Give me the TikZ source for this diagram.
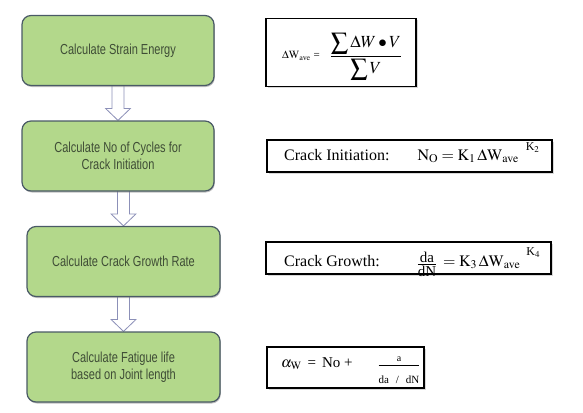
\documentclass[tikz,border=0pt]{standalone}
\usepackage{mathptmx}
\usepackage{fontspec}
\setmainfont{Liberation Serif}
\newfontfamily\stepfont[FakeStretch=0.76]{Liberation Sans}
\usetikzlibrary{positioning, calc, shadows, backgrounds}
\definecolor{stepfill}{HTML}{B3D88B}
\definecolor{stepline}{HTML}{4A5A66}
\definecolor{steptext}{HTML}{3F4D36}
\definecolor{arrowline}{HTML}{8C90B8}

\begin{document}
\begin{tikzpicture}[x=1pt, y=-1pt,
    stepbox/.style={rectangle, rounded corners=9pt, draw=stepline, line width=1.2pt, fill=stepfill, minimum width=192pt, minimum height=70pt, font=\stepfont\fontsize{14.5}{16.5}\selectfont, text=steptext, align=center, drop shadow={shadow xshift=0.8pt, shadow yshift=-1.5pt, fill=black!50}},
    formula/.style={rectangle, draw=black, line width=1.4pt, fill=white, inner sep=0pt, drop shadow={shadow xshift=1.6pt, shadow yshift=-1.6pt, fill=black!30}},
    ftext/.style={inner sep=0pt, anchor=base west, font=\fontsize{16}{19}\selectfont},
    fracnode/.style={inner sep=0pt, anchor=north},
    blockarrow/.style={draw=arrowline, line width=0.8pt, fill=white}
]
\useasboundingbox (0,0) rectangle (583,412);

% process steps
\node[stepbox] (s1) at (118,50.5) {Calculate Strain Energy};
\node[stepbox] (s2) at (118,156) {Calculate No of Cycles for\\Crack Initiation};
\node[stepbox, minimum width=193pt] (s3) at (123.5,261.5) {Calculate Crack Growth Rate};
\node[stepbox, minimum width=193pt] (s4) at (123.5,367) {Calculate Fatigue life\\based on Joint length};

% hollow block arrows
\begin{scope}[on background layer]
\foreach \a/\b in {s1/s2, s2/s3, s3/s4} {
  \coordinate (top) at (\a.south -| \b.north);
  \coordinate (tip) at (\b.north);
  \draw[blockarrow] ($(top)+(-6,-2)$) -- ($(tip)+(-6,-12)$) -- ($(tip)+(-12.5,-12)$) -- (tip)
    -- ($(tip)+(12.5,-12)$) -- ($(tip)+(6,-12)$) -- ($(top)+(6,-2)$) -- cycle;
}
\end{scope}

% formula boxes
\node[formula, minimum width=150pt, minimum height=68pt] (f1) at (341,52.5) {};
\node[formula, minimum width=285pt, minimum height=32pt] (f2) at (409.5,156) {};
\node[formula, minimum width=285pt, minimum height=32pt] (f3) at (408.5,258) {};
\node[formula, minimum width=157pt, minimum height=41pt] (f4) at (345.5,367.5) {};

% strain energy
\node[ftext, font=\fontsize{11}{13}\selectfont] (f1lhs) at (282,59) {$\mathrm{\Delta W_{ave}}$ =};
\node[inner sep=0pt, font=\fontsize{17}{20}\selectfont] (f1frac) at (366,56.5) {$\displaystyle\frac{\displaystyle\sum \Delta W \bullet V}{\displaystyle\sum V}$};

% crack initiation
\node[ftext] (f2txt) at (284,160.5) {Crack Initiation:\hspace{28pt}$\mathrm{N_O = K_1\,\Delta W_{ave}}$\hspace{7pt}\raisebox{10pt}{\fontsize{12}{14}\selectfont K$_2$}};

% crack growth
\node[ftext] (f3txt) at (284,266) {Crack Growth:};
\node[fracnode, font=\fontsize{15}{15}\selectfont] (f3frac) at (427,251.8) {\renewcommand\arraystretch{0.2}\begin{tabular}{@{}c@{}}da\\[1pt]\hline\rule{0pt}{11.5pt}dN\end{tabular}};
\node[ftext] (f3rhs) at (443,266) {$\mathrm{= K_3\,\Delta W_{ave}}$\hspace{6pt}\raisebox{10.5pt}{\fontsize{12}{14}\selectfont K$_4$}};

% fatigue life
\node[ftext, font=\fontsize{15}{18}\selectfont] (f4lhs) at (281,367) {$\alpha_{\mathrm{W}}$\hspace{6pt}=\hspace{6pt}No +};
\node[fracnode, font=\fontsize{11}{11}\selectfont] (f4frac) at (399,356.2) {\renewcommand\arraystretch{0.2}\begin{tabular}{@{}c@{}}{\fontsize{10}{10}\selectfont a}\\[3pt]\hline\rule{0pt}{18.5pt}da\hspace{7pt}/\hspace{7pt}dN\end{tabular}};
\end{tikzpicture}
\end{document}
